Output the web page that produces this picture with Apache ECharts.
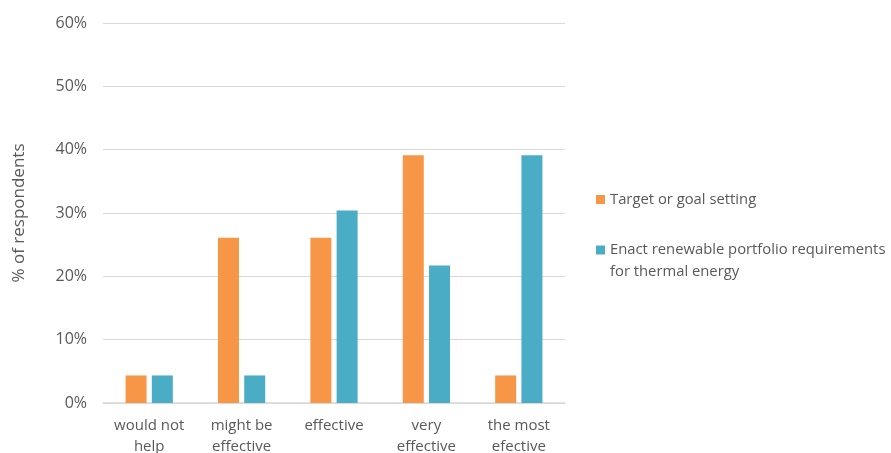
<!DOCTYPE html>
<html><head><meta charset="utf-8">
<script src="https://cdn.jsdelivr.net/npm/echarts@6/dist/echarts.min.js"></script>
<style>html,body{margin:0;padding:0;background:#fff}#c{width:891px;height:453px}</style>
</head><body><div id="c"></div>
<script>
const categories = ['would not\nhelp', 'might be\neffective', 'effective', 'very\neffective', 'the most\nefective'];
const seriesNames = ['Target or goal setting', 'Enact renewable portfolio requirements for thermal energy'];
const targetGoal = [4.35, 26.1, 26.1, 39.1, 4.35];
const renewablePortfolio = [4.35, 4.35, 30.4, 21.7, 39.1];
const yTicks = [0, 10, 20, 30, 40, 50, 60];

const FONT = 'Open Sans';
const GREY = '#595959';
const chart = echarts.init(document.getElementById('c'));
chart.setOption({
  animation: false,
  textStyle: { fontFamily: FONT },
  grid: { left: 103, right: 326, top: 23, bottom: 50, containLabel: false, outerBoundsMode: 'none' },
  legend: [
    { data: [seriesNames[0]], orient: 'vertical', left: 591, top: 187,
      itemWidth: 9, itemHeight: 9, icon: 'rect', itemGap: 5,
      textStyle: { color: GREY, fontSize: 14.8, fontFamily: FONT } },
    { data: [seriesNames[1]], orient: 'vertical', left: 591, top: 212,
      itemWidth: 9, itemHeight: 9, icon: 'rect',
      formatter: () => ' \nEnact renewable portfolio requirements\nfor thermal energy',
      textStyle: { color: GREY, fontSize: 14.8, fontFamily: FONT, lineHeight: 22 } }
  ],
  xAxis: {
    type: 'category', data: categories,
    axisLine: { lineStyle: { color: '#d9d9d9', width: 1.5 } },
    axisTick: { show: false },
    axisLabel: { color: GREY, fontSize: 15, lineHeight: 21, margin: 12, interval: 0, fontFamily: FONT }
  },
  yAxis: {
    type: 'value', min: yTicks[0], max: yTicks[yTicks.length - 1], interval: 10,
    name: '% of respondents', nameLocation: 'middle', nameGap: 75, nameRotate: 90,
    nameTextStyle: { color: GREY, fontSize: 17, fontFamily: FONT },
    axisLine: { show: false }, axisTick: { show: false },
    axisLabel: { color: GREY, fontSize: 16, margin: 16, formatter: v => v + '%', fontFamily: FONT },
    splitLine: { lineStyle: { color: '#d9d9d9', width: 1 } }
  },
  series: [
    { name: seriesNames[0], type: 'bar', data: targetGoal, barWidth: 21, barGap: '25%',
      itemStyle: { color: '#F79646' } },
    { name: seriesNames[1], type: 'bar', data: renewablePortfolio, barWidth: 21, barGap: '25%',
      itemStyle: { color: '#4BACC6' } }
  ]
});
</script></body></html>
